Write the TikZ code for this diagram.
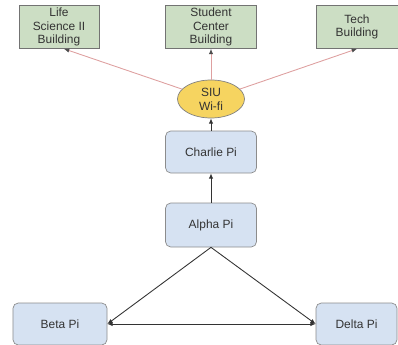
\documentclass[tikz,border=0pt]{standalone}
\usepackage{fontspec}
\setmainfont{Liberation Sans}
\usepackage{tikz}
\usetikzlibrary{arrows.meta}
\usetikzlibrary{shapes.geometric}

\definecolor{bldgreen}{RGB}{204,222,196}
\definecolor{piblue}{RGB}{214,226,242}
\definecolor{wifiyellow}{RGB}{246,212,96}
\definecolor{linkpink}{RGB}{222,160,160}

\tikzset{
  building/.style={draw=black!55, fill=bldgreen, minimum width=1.6cm, minimum height=0.86cm,
    align=center, text=black!80, font=\fontsize{6.8}{7.8}\selectfont, inner sep=1pt},
  pibox/.style={draw=black!45, fill=piblue, rounded corners=3pt, minimum width=1.82cm,
    minimum height=0.84cm, text=black!80, font=\fontsize{6.8}{7.8}\selectfont},
  wifi/.style={ellipse, draw=black!50, fill=wifiyellow, minimum width=1.34cm, minimum height=0.76cm,
    inner sep=0pt, align=center, text=black!80, font=\fontsize{6.8}{7.8}\selectfont},
  link/.style={draw=linkpink, line width=0.5pt, -{Latex[length=3pt,width=2.5pt,color=black!70]}},
  pilink/.style={draw=black!80, line width=0.5pt, -{Latex[length=3pt,width=2.5pt]}}
}

\begin{document}
\begin{tikzpicture}
\useasboundingbox (0,0) rectangle (7.96,-6.9);

% buildings
\node[building] (life)    at (1.18,-0.54) {Life\\Science II\\Building};
\node[building, minimum width=1.82cm] (student) at (4.22,-0.54) {Student\\Center\\Building};
\node[building, minimum width=1.64cm] (tech)    at (7.14,-0.54) {Tech\\Building};

% access point
\node[wifi] (siu) at (4.22,-1.98) {SIU\\Wi-fi};

% pis
\node[pibox] (charlie) at (4.22,-3.04) {Charlie Pi};
\node[pibox, minimum height=0.88cm] (alpha) at (4.22,-4.5) {Alpha Pi};
\node[pibox, minimum width=1.88cm] (beta)  at (1.2,-6.48) {Beta Pi};
\node[pibox, minimum width=1.62cm] (delta) at (7.13,-6.48) {Delta Pi};

\draw[link] (siu) -- ([xshift=0.1cm]life.south);
\draw[link] (siu) -- (student);
\draw[link] (siu) -- (tech.south);

\draw[pilink] (charlie) -- (siu);
\draw[pilink] (alpha) -- (charlie);
\draw[pilink] (alpha.south) -- (beta.east);
\draw[pilink] (alpha.south) -- (delta.west);
\draw[pilink, {Latex[length=3pt,width=2.5pt]}-{Latex[length=3pt,width=2.5pt]}] (beta.east) -- (delta.west);
\end{tikzpicture}
\end{document}
